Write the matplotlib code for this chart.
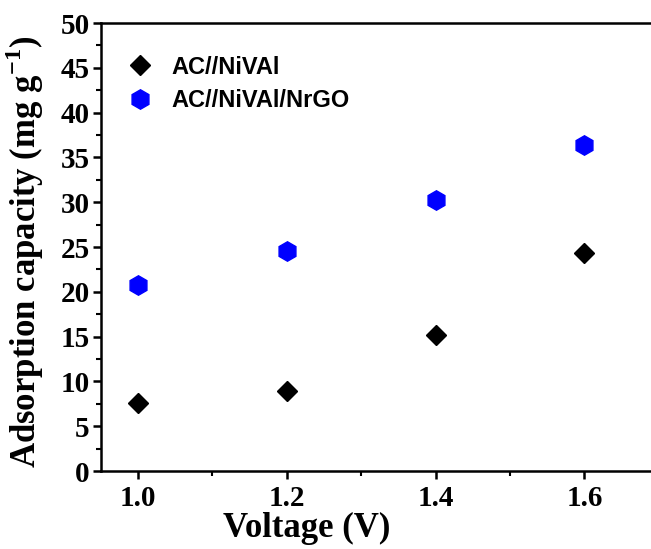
import matplotlib
matplotlib.use("Agg")
import matplotlib.pyplot as plt
from matplotlib.ticker import MultipleLocator

plt.rcParams["font.family"] = "Liberation Serif"
plt.rcParams["font.weight"] = "bold"
plt.rcParams["axes.labelweight"] = "bold"
plt.rcParams["mathtext.fontset"] = "custom"
plt.rcParams["mathtext.bf"] = "Liberation Serif:bold"
plt.rcParams["mathtext.rm"] = "Liberation Serif:bold"

# datos
voltaje = [1.0, 1.2, 1.4, 1.6]
cap_nivai = [7.6, 8.95, 15.2, 24.3]
cap_nrgo = [20.8, 24.6, 30.3, 36.4]
etiquetas = ["AC//NiVAl", "AC//NiVAl/NrGO"]

fig = plt.figure(figsize=(6.51, 5.49), dpi=100)
ax = fig.add_axes([0.155, 0.142, 0.857, 0.816])

ax.plot(voltaje, cap_nivai, linestyle="none", marker="D", markersize=10.5,
        color="black", label=etiquetas[0])
ax.plot(voltaje, cap_nrgo, linestyle="none", marker="h", markersize=14,
        color="#0000ff", label=etiquetas[1])

ax.set_xlim(0.95, 1.7)
ax.set_ylim(0, 50)
ax.xaxis.set_major_locator(MultipleLocator(0.2))
ax.xaxis.set_minor_locator(MultipleLocator(0.1))
ax.yaxis.set_major_locator(MultipleLocator(5))
ax.yaxis.set_minor_locator(MultipleLocator(2.5))

for lado in ["left", "bottom", "top"]:
    ax.spines[lado].set_linewidth(1.8)
ax.spines["right"].set_visible(False)

ax.tick_params(which="major", direction="out", length=6, width=1.8, pad=2,
               labelsize=21)
ax.tick_params(which="minor", direction="out", length=3.5, width=1.5)
ax.tick_params(axis="x", which="major", pad=4)

ax.set_xlabel("Voltage (V)", fontsize=25)
ax.xaxis.set_label_coords(0.369, -0.092)
ax.set_ylabel("Adsorption capacity (mg g$^{\\mathrm{-1}}$)", fontsize=25, va="center")
ax.yaxis.set_label_coords(-0.136, 0.49)

leg = ax.legend(loc="upper left", bbox_to_anchor=(0.0, 0.975), frameon=False,
                prop={"family": "Liberation Sans", "weight": "bold", "size": 17},
                handletextpad=0.6, labelspacing=0.45, borderaxespad=0.5,
                handlelength=1.5)

fig.savefig("out.png", dpi=100)
